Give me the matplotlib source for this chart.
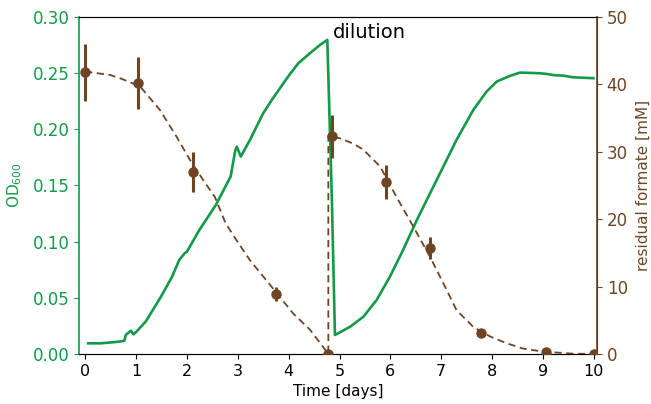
import matplotlib.pyplot as plt

GREEN = "#129a48"
BROWN = "#6e4524"

# OD600 trace (days, OD)
od_time = [0.06, 0.30, 0.54, 0.70, 0.77, 0.80, 0.90, 0.95, 1.00, 1.19, 1.49, 1.70, 1.85,
           1.96, 2.00, 2.24, 2.57, 2.86, 2.95, 2.98, 3.06, 3.24, 3.50, 3.67, 3.83, 3.99,
           4.19, 4.42, 4.62, 4.76, 4.85, 4.91, 5.21, 5.47, 5.73, 5.99, 6.25, 6.52, 6.78,
           7.04, 7.30, 7.63, 7.89, 8.09, 8.35, 8.55, 8.94, 9.07, 9.23, 9.40, 9.59, 9.99]
od_value = [0.0095, 0.0095, 0.0104, 0.0112, 0.0118, 0.017, 0.0208, 0.0175, 0.0195, 0.0288,
            0.051, 0.068, 0.0837, 0.0899, 0.091, 0.110, 0.1327, 0.158, 0.181, 0.1846,
            0.1757, 0.1906, 0.2143, 0.2262, 0.2366, 0.247, 0.2588, 0.2678, 0.2752, 0.2796,
            0.137, 0.0169, 0.0243, 0.0332, 0.0481, 0.0688, 0.0926, 0.1193, 0.1431, 0.1668,
            0.1906, 0.2173, 0.2336, 0.2425, 0.2476, 0.2505, 0.2499, 0.2493, 0.2481, 0.2478,
            0.2463, 0.2455]

# measured residual formate (mM)
fm_time = [0.0, 1.04, 2.12, 3.75, 4.77, 4.85, 5.91, 6.78, 7.78, 9.06, 10.0]
fm_value = [41.8, 40.2, 27.0, 8.9, 0.0, 32.3, 25.5, 15.7, 3.1, 0.3, 0.0]
fm_err = [4.2, 3.9, 2.9, 1.0, 0.0, 3.2, 2.5, 1.6, 0.0, 0.0, 0.0]

# fitted formate consumption curve
fit_time = [0.0, 0.49, 0.69, 1.08, 1.47, 1.80, 2.06, 2.32, 2.55, 2.76, 2.99, 3.24, 3.50,
            3.77, 4.09, 4.42, 4.78, 4.78, 5.01, 5.27, 5.47, 5.80, 6.12, 6.45, 6.78, 7.04,
            7.30, 7.63, 7.96, 8.28, 8.61, 9.00, 9.59, 10.0]
fit_value = [41.9, 41.4, 40.9, 39.7, 36.2, 32.2, 28.8, 25.8, 23.3, 19.4, 16.7, 13.9, 11.5,
             9.0, 6.0, 3.6, 0.0, 32.4, 32.0, 31.2, 30.3, 27.8, 23.3, 18.9, 14.4, 10.5,
             6.5, 4.0, 2.6, 1.6, 0.8, 0.35, 0.05, 0.0]

fig = plt.figure(figsize=(6.51, 4.04), dpi=100)
ax = fig.add_axes([0.1214, 0.1238, 0.7956, 0.8342])
ax2 = ax.twinx()

ax.plot(od_time, od_value, color=GREEN, lw=1.9, zorder=2)
ax.set_xlim(-0.12, 10.06)
ax.set_ylim(0, 0.30)
ax.set_yticks([0, 0.05, 0.10, 0.15, 0.20, 0.25, 0.30])
ax.set_yticklabels([f"{v:.2f}" for v in ax.get_yticks()])
ax.set_xticks(range(0, 11))
ax.set_xlabel("Time [days]", fontsize=11)
ax.set_ylabel("OD$_{600}$", color=GREEN, fontsize=11, labelpad=6)
ax.tick_params(axis="y", colors=GREEN, labelsize=12)
ax.tick_params(axis="x", labelsize=11.5)
ax.spines["left"].set_color(GREEN)
ax.spines["left"].set_linewidth(1.2)

ax2.plot(fit_time, fit_value, color=BROWN, lw=1.3, ls=(0, (4, 2.5)), zorder=3)
ax2.errorbar(fm_time, fm_value, yerr=fm_err, fmt="o", color=BROWN, ms=6.5,
             elinewidth=2.2, capsize=0, zorder=4)
ax2.set_ylim(0, 50)
ax2.set_yticks([0, 10, 20, 30, 40, 50])
ax2.set_ylabel("residual formate [mM]", color=BROWN, fontsize=11, labelpad=6)
ax2.tick_params(axis="y", colors=BROWN, labelsize=12)
ax2.spines["right"].set_color(BROWN)
ax2.spines["right"].set_linewidth(1.2)
ax2.spines["left"].set_visible(False)

ax.text(4.87, 0.286, "dilution", fontsize=14, va="center", ha="left")

fig.savefig("out.png", dpi=100, facecolor="white")
